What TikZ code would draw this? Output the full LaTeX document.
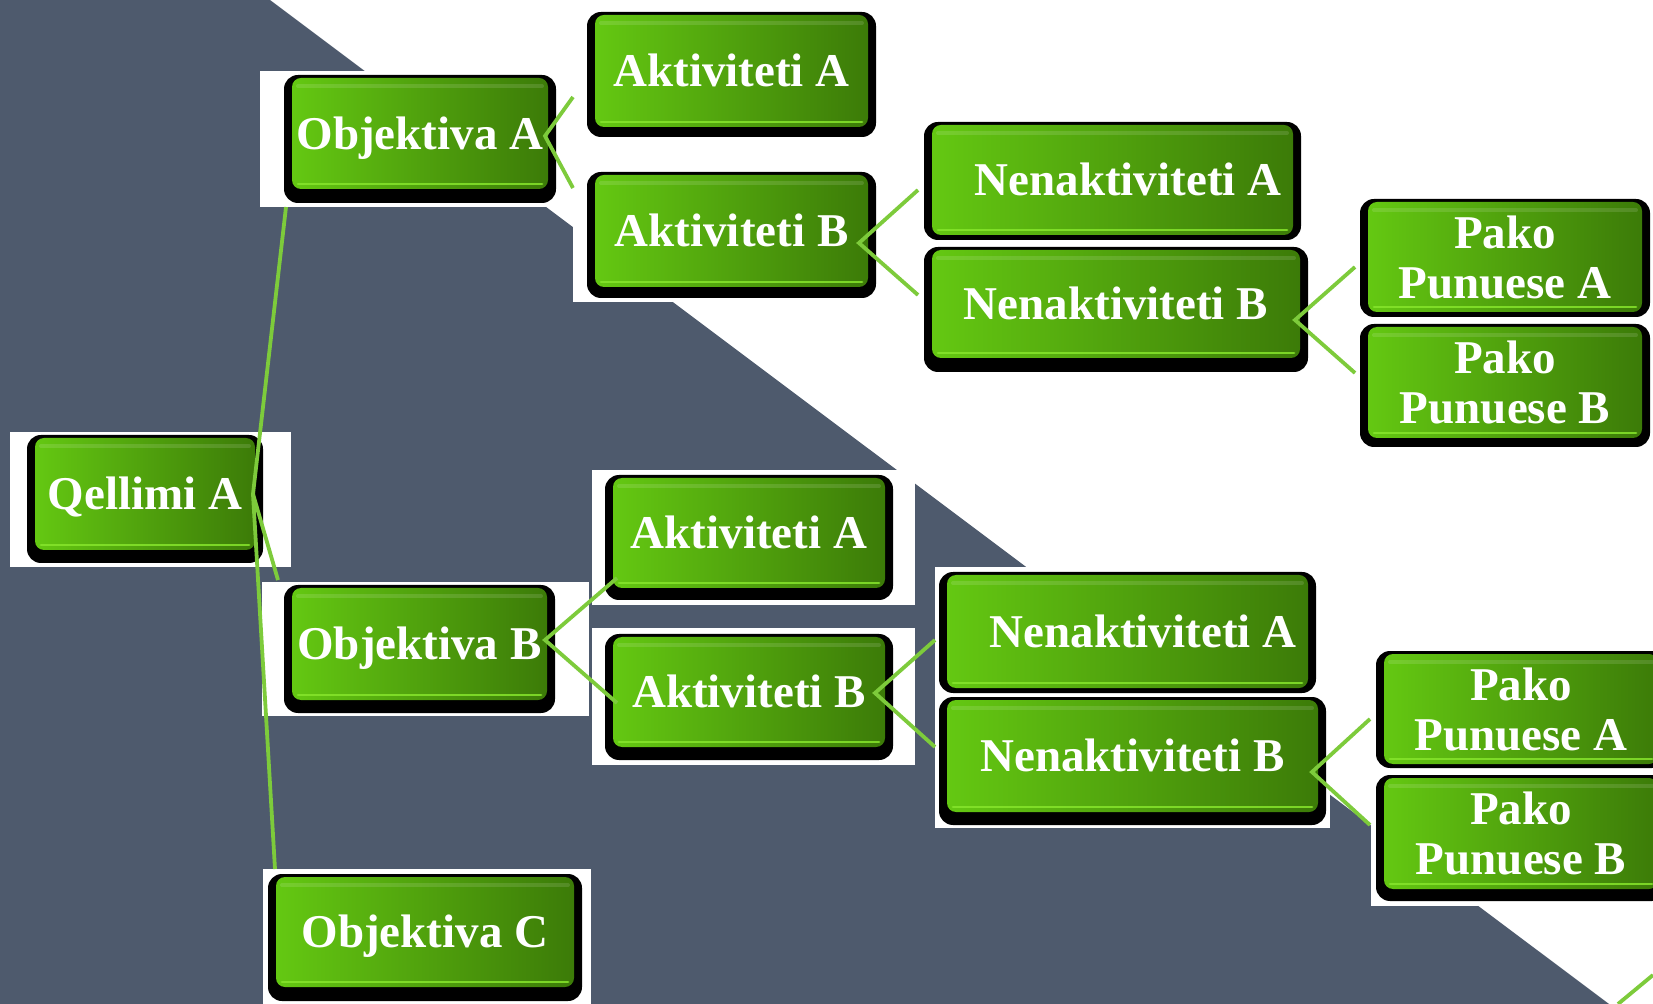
\documentclass[tikz,border=0pt]{standalone}
\usepackage{fontspec}
\setmainfont{Liberation Serif}
\usetikzlibrary{calc}
\pgfdeclarelayer{bglayer}
\pgfdeclarelayer{shadowlayer}
\pgfsetlayers{bglayer,shadowlayer,main}
\definecolor{slate}{HTML}{4E5A6D}
\definecolor{gBright}{HTML}{64C812}
\definecolor{gMid}{HTML}{55B00D}
\definecolor{gDark}{HTML}{3C7B08}
\definecolor{gLine}{HTML}{7DCB3B}
\definecolor{gHi}{HTML}{86E52C}
\tikzset{
  face/.style={rectangle, rounded corners=4.5pt, inner sep=0pt, outer sep=0pt,
    left color=gBright, middle color=gMid, right color=gDark,
    text=white, font=\fontsize{23.5pt}{25pt}\selectfont\bfseries},
  oneline/.style={text height=15.6pt, text depth=0pt},
  twoline/.style={align=center},
  hilite/.style={gHi, line width=1.4pt, line cap=round, opacity=0.85},
  toplite/.style={white, line width=2pt, line cap=round, opacity=0.12},
  shadowbox/.style={fill=black, rounded corners=7pt},
  whitebg/.style={fill=white},
  conn/.style={gLine, line width=1.9pt}
}
% name, x1, y1, x2, y2, bottom shadow, options, text
\newcommand{\gbox}[8]{%
  \begin{pgfonlayer}{shadowlayer}
    \path[shadowbox] (#2-8,#3-3) rectangle (#4+8,#5+#6);
  \end{pgfonlayer}
  \pgfmathsetmacro{\gbw}{(#4-#2)*0.5}%
  \pgfmathsetmacro{\gbh}{(#5-#3)*0.5}%
  \node[face, minimum width=\gbw pt, minimum height=\gbh pt, #7] (#1) at ({(#2+#4)/2},{(#3+#5)/2}) {#8};
  \draw[hilite] (#2+6,#5-5) -- (#4-6,#5-5);
  \draw[toplite] (#2+6,#3+8) -- (#4-6,#3+8);
}
\begin{document}
\begin{tikzpicture}[x=0.5pt, y=-0.5pt]
\useasboundingbox (0,0) rectangle (1653,1004);
\begin{pgfonlayer}{bglayer}
  \fill[white] (0,0) rectangle (1653,1004);
  \fill[slate] (0,0) -- (270,0) -- (1609,1004) -- (0,1004) -- cycle;
  % white picture backgrounds
  \path[whitebg] (10,432) rectangle (291,567);
  \path[whitebg] (260,71) rectangle (573,207);
  \path[whitebg] (573,168) rectangle (885,302);
  \path[whitebg] (262,582) rectangle (589,716);
  \path[whitebg] (592,470) rectangle (915,605);
  \path[whitebg] (592,628) rectangle (915,765);
  \path[whitebg] (935,567) rectangle (1330,828);
  \path[whitebg] (1371,645) rectangle (1653,906);
  \path[whitebg] (263,869) rectangle (591,1004);
\end{pgfonlayer}

\gbox{Q}{35}{438}{255}{550}{13}{oneline}{Qellimi A}
\gbox{OA}{292}{78}{548}{189}{14}{oneline}{Objektiva A}
\gbox{OB}{292}{588}{547}{700}{13}{oneline}{Objektiva B}
\gbox{OC}{276}{877}{574}{987}{14}{oneline}{Objektiva C}
\gbox{AA1}{595}{15}{868}{127}{10}{oneline}{Aktiviteti A}
\gbox{AB1}{595}{175}{868}{287}{11}{oneline}{Aktiviteti B}
\gbox{NA1}{932}{125}{1293}{235}{5}{oneline}{\hspace*{15.5pt}Nenaktiviteti A}
\gbox{NB1}{932}{250}{1300}{358}{14}{oneline}{Nenaktiviteti B}
\gbox{PA1}{1368}{202}{1642}{312}{5}{twoline}{Pako\\Punuese A}
\gbox{PB1}{1368}{327}{1642}{438}{9}{twoline}{Pako\\Punuese B}
\gbox{AA2}{613}{478}{885}{588}{12}{oneline}{Aktiviteti A}
\gbox{AB2}{613}{637}{885}{747}{13}{oneline}{Aktiviteti B}
\gbox{NA2}{947}{575}{1308}{688}{5}{oneline}{\hspace*{15.5pt}Nenaktiviteti A}
\gbox{NB2}{947}{700}{1318}{812}{13}{oneline}{Nenaktiviteti B}
\gbox{PA2}{1384}{654}{1658}{764}{4}{twoline}{Pako\\Punuese A}
\gbox{PB2}{1384}{778}{1658}{889}{12}{twoline}{Pako\\Punuese B}

% connector junction points and ends
\coordinate (jQ) at (253,494);
\coordinate (eOA) at (286,207);
\coordinate (eOB) at (278,580);
\coordinate (eOC) at (275,869);
\coordinate (jOA) at (545,136);
\coordinate (eAA1) at (573,97);
\coordinate (eAB1) at (573,188);
\coordinate (jAB1) at (859,243);
\coordinate (eNA1) at (918,190);
\coordinate (eNB1) at (918,295);
\coordinate (jNB1) at (1295,320);
\coordinate (ePA1) at (1355,267);
\coordinate (ePB1) at (1355,373);
\coordinate (jOB) at (545,640);
\coordinate (eAA2) at (617,578);
\coordinate (eAB2) at (617,703);
\coordinate (jAB2) at (875,693);
\coordinate (eNA2) at (935,640);
\coordinate (eNB2) at (935,747);
\coordinate (jNB2) at (1312,772);
\coordinate (ePA2) at (1370,719);
\coordinate (ePB2) at (1370,825);
\coordinate (sA) at (1618,1004);
\coordinate (sB) at (1653,975);

\draw[conn] (eOA) -- (jQ) -- (eOB);
\draw[conn] (jQ) -- (eOC);
\draw[conn] (eAA1) -- (jOA) -- (eAB1);
\draw[conn] (eNA1) -- (jAB1) -- (eNB1);
\draw[conn] (ePA1) -- (jNB1) -- (ePB1);
\draw[conn] (eAA2) -- (jOB) -- (eAB2);
\draw[conn] (eNA2) -- (jAB2) -- (eNB2);
\draw[conn] (ePA2) -- (jNB2) -- (ePB2);
\draw[conn] (sA) -- (sB);
\end{tikzpicture}
\end{document}
